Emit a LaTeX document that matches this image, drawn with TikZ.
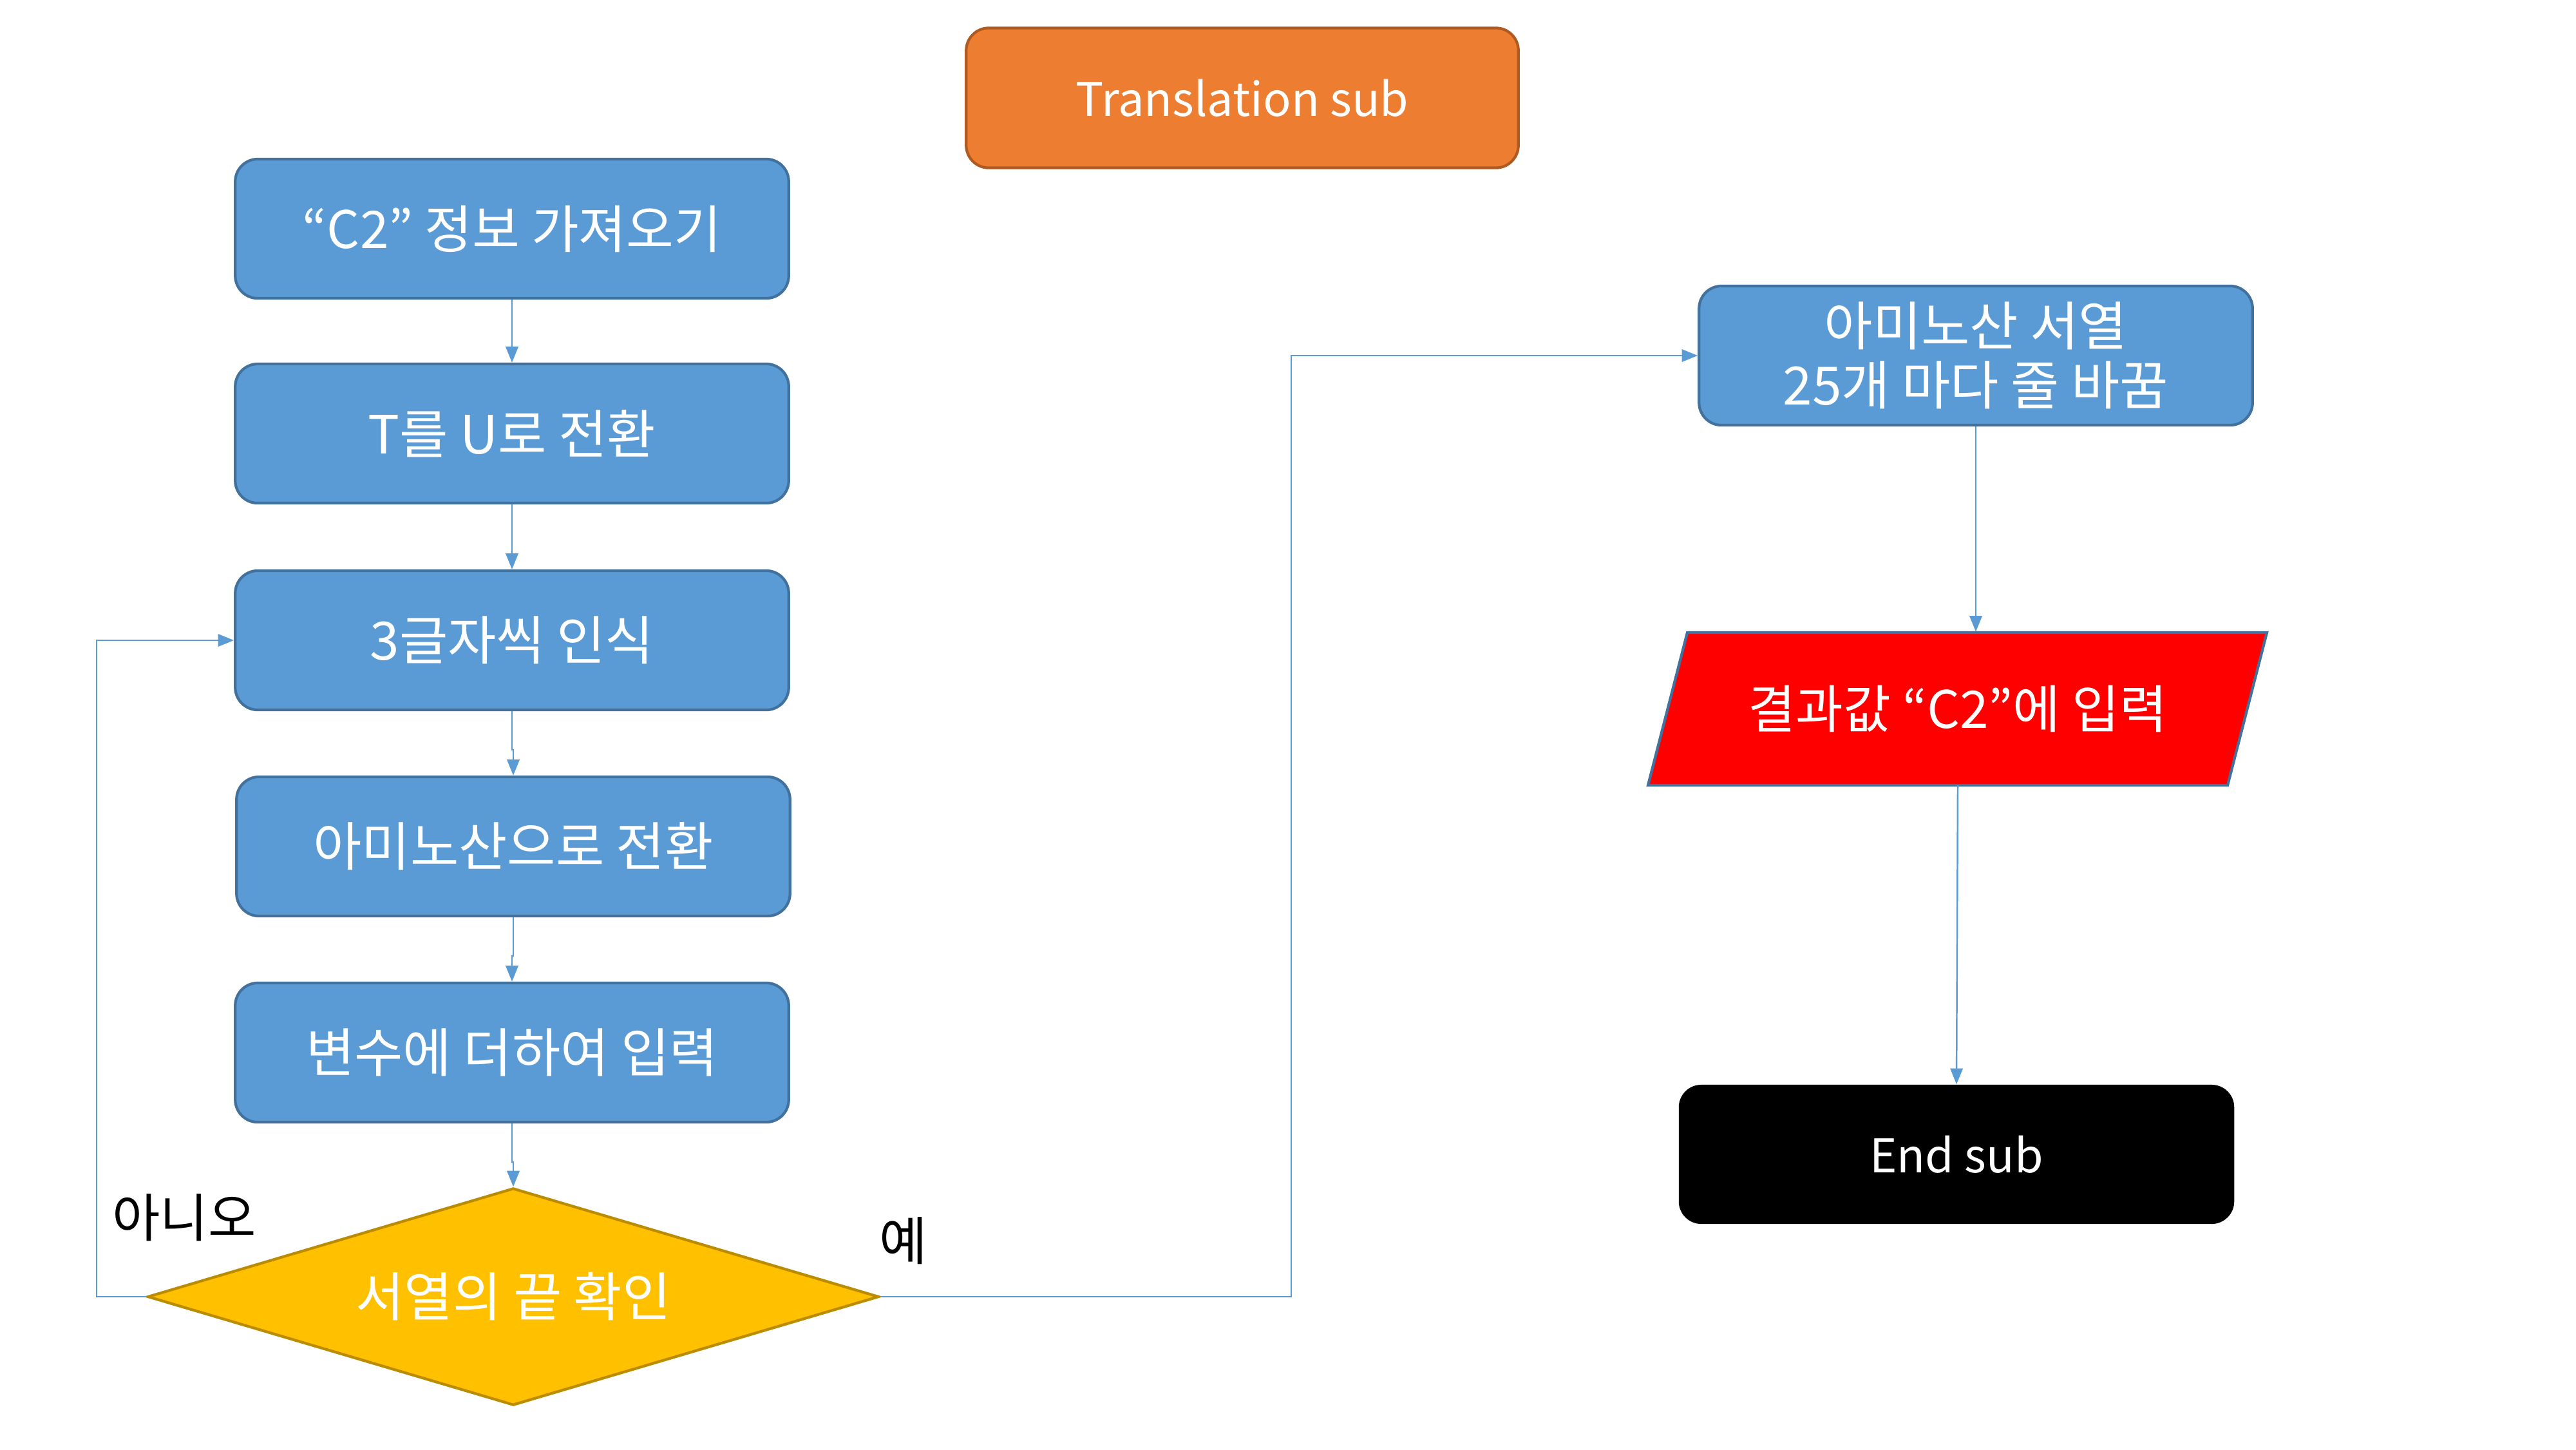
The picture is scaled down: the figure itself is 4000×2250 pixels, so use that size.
\documentclass[tikz,border=0pt]{standalone}
\usepackage{fontspec}
\setmainfont{Noto Sans CJK KR}
\usetikzlibrary{arrows.meta,shapes.geometric}
\definecolor{boxblue}{HTML}{5B9BD5}
\definecolor{boxedge}{HTML}{41719C}
\definecolor{orfill}{HTML}{ED7D31}
\definecolor{oredge}{HTML}{AE5A21}
\definecolor{yfill}{HTML}{FFC000}
\definecolor{yedge}{HTML}{BC8C00}
\begin{document}
\begin{tikzpicture}[x=0.01cm,y=-0.01cm,
  txt/.style={text=white,font=\fontsize{23.3}{26}\selectfont,align=center,inner sep=0pt},
  latin/.style={font=\fontsize{20.5}{26}\selectfont},
  mixed/.style={font=\fontsize{22.8}{26}\selectfont},
  proc/.style={txt,draw=boxedge,fill=boxblue,line width=1.2pt,rounded corners=0.35cm,minimum width=8.59cm,minimum height=2.16cm},
  startbox/.style={txt,latin,draw=oredge,fill=orfill,line width=1.2pt,rounded corners=0.35cm,minimum width=8.57cm,minimum height=2.17cm},
  endbox/.style={txt,latin,fill=black,rounded corners=0.35cm,minimum width=8.62cm,minimum height=2.16cm},
  decision/.style={txt,shape=diamond,aspect=3.37,draw=yedge,fill=yfill,line width=1.2pt,minimum width=11.35cm,minimum height=3.37cm},
  conn/.style={draw=boxblue,line width=0.7pt,-{Triangle[length=7pt,width=5.5pt]}},
  lbl/.style={text=black,font=\fontsize{23}{26}\selectfont,inner sep=0pt}]
\useasboundingbox (0,0) rectangle (4000,2250);
\fill[white] (0,0) rectangle (4000,2250);

\node[startbox] (start) at (1929,152) {Translation sub};

\node[proc,mixed] (b1) at (795,355) {“C2” 정보 가져오기};
\node[proc] (b2) at (795,673) {T를 U로 전환};
\node[proc] (b3) at (795,994) {3글자씩 인식};
\node[proc] (b4) at (797,1314) {아미노산으로 전환};
\node[proc] (b5) at (795,1634) {변수에 더하여 입력};
\node[decision] (dec) at (797,2013) {서열의 끝 확인};

\node[proc] (rbox) at (3068,552) {아미노산 서열\\25개 마다 줄 바꿈};

\node[txt,minimum width=9cm,minimum height=2.37cm] (par) at (3040,1100) {};
\draw[draw=boxedge,fill=red,line width=1.2pt] (2620,982) -- (3520,982) -- (3459,1219) -- (2559,1219) -- cycle;
\node[txt,mixed] at (par.center) {결과값 “C2”에 입력};

\node[endbox] (end) at (3038,1792) {End sub};

\node[lbl] (no) at (286,1890) {아니오};
\node[lbl] (yes) at (1403,1926) {예};

\draw[conn] (b1.south) -- (b2.north);
\draw[conn] (b2.south) -- (b3.north);
\draw[conn] (b3.south) -- ++(0,60) -| (b4.north);
\draw[conn] (b4.south) -- ++(0,60) -| (b5.north);
\draw[conn] (b5.south) -- ++(0,60) -| (dec.north);
\draw[conn] (dec.west) -- ++(-77,0) |- (b3.west);
\draw[conn] (dec.east) -- ++(638,0) |- (rbox.west);
\draw[conn] (rbox.south) -- (rbox.south |- par.north);
\draw[conn] (par.south) -- (end.north);
\end{tikzpicture}
\end{document}
